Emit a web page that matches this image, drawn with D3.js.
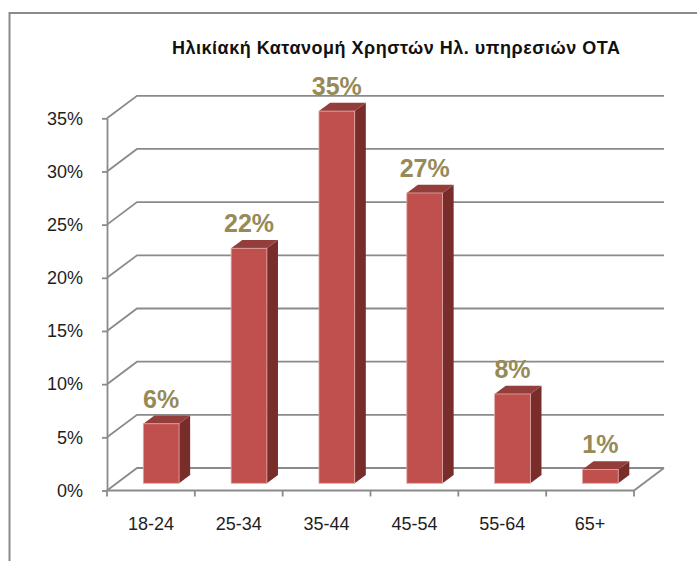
<!DOCTYPE html>
<html>
<head>
<meta charset="utf-8">
<script src="https://cdn.jsdelivr.net/npm/d3@7"></script>
<style>
  html, body { margin: 0; padding: 0; background: #fff; }
  svg { display: block; }
</style>
</head>
<body>
<svg id="chart" width="697" height="561"></svg>
<script>
(function () {
    'use strict';

    // data
    var categories = ['18-24', '25-34', '35-44', '45-54', '55-64', '65+'];
    var shares = [5.6, 22.1, 35.0, 27.3, 8.4, 1.3];
    var yTicks = [0, 5, 10, 15, 20, 25, 30, 35];
    var title = 'Ηλικίακή Κατανομή Χρηστών  Ηλ. υπηρεσιών ΟΤΑ';

    var gridColor = '#8a8a8a';
    var frontFill = '#C0504D';
    var topFill = '#933E3B';
    var sideFill = '#782D2B';
    var labelColor = '#968A57';
    var font = '"Liberation Sans", Arial, sans-serif';

    // depth of the floor (3d offset of the back wall)
    var depthX = 30;
    var depthY = -22.5;
    var barFront = 0.32;
    var barBack = 0.69;

    var svg = d3.select('#chart');

    svg.append('rect')
        .attr('x', 9.5).attr('y', 13)
        .attr('width', 720).attr('height', 600)
        .style('fill', 'none')
        .style('stroke', gridColor)
        .style('stroke-width', 2);

    var x = d3.scaleBand().domain(categories).range([107, 634]);
    var y = d3.scaleLinear().domain([0, 35]).range([490.5, 118.3]);
    var x0 = x.range()[0], x1 = x.range()[1];

    // walls: side diagonal + back line for every tick
    svg.append('g').selectAll('path')
        .data(yTicks)
        .enter().append('path')
        .attr('d', function (t) {
            var yy = y(t);
            return 'M' + x0 + ',' + yy +
                'L' + (x0 + depthX) + ',' + (yy + depthY) +
                'L' + (x1 + depthX) + ',' + (yy + depthY);
        })
        .style('fill', 'none')
        .style('stroke', gridColor)
        .style('stroke-width', 1.8);

    // floor front edge and right side
    svg.append('path')
        .attr('d', 'M' + x0 + ',' + y(0) + 'L' + x1 + ',' + y(0) +
            'L' + (x1 + depthX) + ',' + (y(0) + depthY))
        .style('fill', 'none')
        .style('stroke', gridColor)
        .style('stroke-width', 1.8);

    // category ticks at band edges
    var edges = categories.map(function (c) { return x(c); }).concat([x1]);
    svg.append('g').selectAll('line')
        .data(edges)
        .enter().append('line')
        .attr('x1', function (d) { return d; })
        .attr('x2', function (d) { return d; })
        .attr('y1', y(0))
        .attr('y2', y(0) + 6)
        .style('stroke', gridColor)
        .style('stroke-width', 1.8);

    // y axis
    var yAxis = svg.append('g')
        .attr('transform', 'translate(' + x0 + ',0)')
        .call(d3.axisLeft(y)
            .tickValues(yTicks)
            .tickSize(5)
            .tickSizeOuter(0)
            .tickPadding(19)
            .tickFormat(function (d) { return d + '%'; }));
    yAxis.select('.domain').style('stroke', gridColor).style('stroke-width', 1.8);
    yAxis.selectAll('.tick line').style('stroke', gridColor).style('stroke-width', 1.8);
    yAxis.selectAll('text')
        .style('font-family', font)
        .style('font-size', '18px')
        .style('fill', '#1e1e1e');

    // x axis labels
    var xAxis = svg.append('g')
        .attr('transform', 'translate(0,' + y(0) + ')')
        .call(d3.axisBottom(x).tickSize(0).tickPadding(27));
    xAxis.select('.domain').remove();
    xAxis.selectAll('text')
        .style('font-family', font)
        .style('font-size', '18px')
        .style('fill', '#1e1e1e');

    // bars
    var bw = x.bandwidth();
    var barW = bw * 0.407;
    var barOff = bw * 0.304;
    var fx = barFront * depthX, fy = barFront * depthY;
    var bdx = (barBack - barFront) * depthX, bdy = (barBack - barFront) * depthY;

    var bars = categories.map(function (c, i) {
        var left = x(c) + barOff + fx;
        return {
            cat: c,
            value: shares[i],
            left: left,
            right: left + barW,
            top: y(shares[i]) + fy,
            bottom: y(0) + fy
        };
    });

    function pts(list) {
        return list.map(function (p) { return p.join(','); }).join(' ');
    }

    var barG = svg.append('g').selectAll('g')
        .data(bars)
        .enter().append('g');

    barG.append('polygon')
        .attr('points', function (d) {
            return pts([[d.right, d.top], [d.right + bdx, d.top + bdy],
                [d.right + bdx, d.bottom + bdy], [d.right, d.bottom]]);
        })
        .style('fill', sideFill);

    barG.append('polygon')
        .attr('points', function (d) {
            return pts([[d.left, d.top], [d.left + bdx, d.top + bdy],
                [d.right + bdx, d.top + bdy], [d.right, d.top]]);
        })
        .style('fill', topFill);

    barG.append('rect')
        .attr('x', function (d) { return d.left; })
        .attr('y', function (d) { return d.top; })
        .attr('width', barW)
        .attr('height', function (d) { return d.bottom - d.top; })
        .style('fill', frontFill)
        .style('stroke', '#E3A9A7')
        .style('stroke-width', 0.8);

    // value labels
    svg.append('g').selectAll('text')
        .data(bars)
        .enter().append('text')
        .attr('x', function (d) { return (d.left + d.right) / 2; })
        .attr('y', function (d) { return d.top - 16; })
        .attr('text-anchor', 'middle')
        .style('font-family', font)
        .style('font-size', '25px')
        .style('font-weight', 'bold')
        .style('fill', labelColor)
        .text(function (d) { return Math.round(d.value) + '%'; });

    // title
    svg.append('text')
        .attr('x', 396)
        .attr('y', 54)
        .attr('text-anchor', 'middle')
        .attr('textLength', 448)
        .attr('lengthAdjust', 'spacing')
        .style('font-family', font)
        .style('font-size', '18px')
        .style('font-weight', 'bold')
        .style('fill', '#111')
        .text(title);
})();
</script>
</body>
</html>
